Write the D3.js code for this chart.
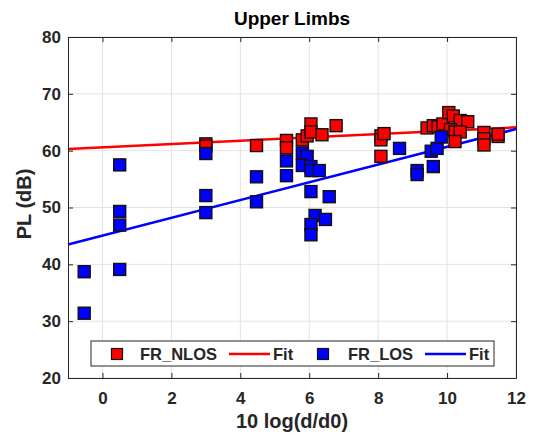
<!DOCTYPE html>
<html>
<head>
<meta charset="utf-8">
<script src="https://cdn.jsdelivr.net/npm/d3@7"></script>
<style>
  body { margin: 0; background: #fff; }
  text { font-family: "Liberation Sans", Arial, sans-serif; }
</style>
</head>
<body>
<script>
const wid = 536, hei = 436;
const margin = {left: 68, right: 20, top: 37, bottom: 58};

// FR_NLOS (red)
const nlosX = [3.0, 3.0, 4.47, 5.34, 5.34, 5.8, 5.94, 6.05, 6.05, 6.37, 6.78,
               8.08, 8.08, 8.17, 8.08, 9.42, 9.6, 9.74, 9.88, 10.05, 10.18, 10.38, 10.6,
               10.1, 10.23, 10.38, 10.23, 11.07, 11.07, 11.07, 11.48, 11.48];
const nlosY = [61.2, 60.8, 60.9, 61.8, 60.5, 61.9, 62.6, 64.7, 63.3, 62.8, 64.4,
               62.6, 61.9, 63.0, 59.0, 64.0, 64.4, 64.2, 64.7, 66.7, 66.1, 65.3, 65.1,
               63.7, 63.3, 63.3, 61.6, 63.2, 62.1, 61.0, 62.5, 62.9];

// FR_LOS (blue)
const losX = [-0.53, -0.53, 0.5, 0.5, 0.5, 0.5, 3.0, 3.0, 3.0, 4.47, 4.47,
              5.34, 5.34, 5.8, 5.94, 5.8, 6.05, 6.05, 6.29, 6.05, 6.58, 6.17, 6.47, 6.05, 6.05,
              8.62, 9.13, 9.13, 9.6, 9.54, 9.71, 9.83];
const losY = [38.7, 31.4, 57.5, 49.3, 46.9, 39.1, 59.5, 52.1, 49.1, 55.4, 51.0,
              58.2, 55.6, 59.6, 59.0, 57.4, 57.2, 56.5, 56.5, 52.8, 51.9, 48.6, 47.9, 47.0, 45.2,
              60.4, 56.5, 55.8, 57.2, 59.9, 60.4, 62.4];

// linear fits, value at x = -1 and x = 12
const fitX = [-1, 12];
const nlosFit = [60.3, 64.1];
const losFit = [43.5, 63.8];

const xTicks = [0, 2, 4, 6, 8, 10, 12];
const yTicks = [20, 30, 40, 50, 60, 70, 80];

const iw = wid - margin.left - margin.right;
const ih = hei - margin.top - margin.bottom;

const x = d3.scaleLinear().domain([-1, 12]).range([0, iw]);
const y = d3.scaleLinear().domain([20, 80]).range([ih, 0]);

const svg = d3.select('body').append('svg')
    .attr('width', wid).attr('height', hei);

const g = svg.append('g')
    .attr('transform', `translate(${margin.left},${margin.top})`);

// grid
g.selectAll('.gx').data(xTicks).enter().append('line')
    .attr('x1', d => x(d)).attr('x2', d => x(d))
    .attr('y1', 0).attr('y2', ih)
    .attr('stroke', '#e3e3e3').attr('stroke-width', 1);
g.selectAll('.gy').data(yTicks).enter().append('line')
    .attr('x1', 0).attr('x2', iw)
    .attr('y1', d => y(d)).attr('y2', d => y(d))
    .attr('stroke', '#e3e3e3').attr('stroke-width', 1);

// fit lines
const line = d3.line().x(d => x(d[0])).y(d => y(d[1]));
g.append('path').datum(d3.zip(fitX, nlosFit)).attr('d', line)
    .attr('stroke', '#ff0000').attr('stroke-width', 2.5).attr('fill', 'none');
g.append('path').datum(d3.zip(fitX, losFit)).attr('d', line)
    .attr('stroke', '#0000ff').attr('stroke-width', 2.5).attr('fill', 'none');

// markers
const sz = 12;
function drawPts(xs, ys, col) {
    g.append('g').selectAll('rect')
        .data(d3.zip(xs, ys))
        .enter().append('rect')
        .attr('x', d => x(d[0]) - sz / 2)
        .attr('y', d => y(d[1]) - sz / 2)
        .attr('width', sz).attr('height', sz)
        .attr('fill', col).attr('stroke', '#111').attr('stroke-width', 1.4);
}
drawPts(nlosX, nlosY, '#ff0000');
drawPts(losX, losY, '#0000ff');

// axes
const axCol = '#262626';
const xAx = g.append('g').attr('transform', `translate(0,${ih})`)
    .call(d3.axisBottom(x).tickValues(xTicks).tickSizeInner(-5).tickSizeOuter(0).tickPadding(14));
const xTop = g.append('g')
    .call(d3.axisTop(x).tickValues(xTicks).tickSizeInner(-5).tickSizeOuter(0).tickFormat(''));
const yAx = g.append('g')
    .call(d3.axisLeft(y).tickValues(yTicks).tickSizeInner(-5).tickSizeOuter(0).tickPadding(7));
const yRight = g.append('g').attr('transform', `translate(${iw},0)`)
    .call(d3.axisRight(y).tickValues(yTicks).tickSizeInner(-5).tickSizeOuter(0).tickFormat(''));

[xAx, xTop, yAx, yRight].forEach(a => {
    a.select('.domain').attr('stroke', axCol);
    a.selectAll('line').attr('stroke', axCol);
    a.selectAll('text').attr('fill', axCol)
        .style('font-size', '17px').style('font-weight', 'bold');
});

// labels
svg.append('text').attr('x', margin.left + iw / 2).attr('y', 25)
    .attr('text-anchor', 'middle').attr('fill', '#000')
    .style('font-size', '19px').style('font-weight', 'bold').text('Upper Limbs');
svg.append('text').attr('x', margin.left + iw / 2).attr('y', 428)
    .attr('text-anchor', 'middle').attr('fill', axCol)
    .style('font-size', '20px').style('font-weight', 'bold').text('10 log(d/d0)');
svg.append('text')
    .attr('transform', `translate(31,204) rotate(-90)`)
    .attr('text-anchor', 'middle').attr('fill', axCol)
    .style('font-size', '20px').style('font-weight', 'bold').text('PL (dB)');

// legend
const lg = svg.append('g');
lg.append('rect').attr('x', 91).attr('y', 341).attr('width', 403).attr('height', 25)
    .attr('fill', '#fff').attr('stroke', axCol).attr('stroke-width', 1);
const legItems = [
    {type: 'sq', col: '#ff0000', cx: 117, label: 'FR_NLOS', tx: 140},
    {type: 'ln', col: '#ff0000', cx: 229, label: 'Fit', tx: 273},
    {type: 'sq', col: '#0000ff', cx: 323, label: 'FR_LOS', tx: 348},
    {type: 'ln', col: '#0000ff', cx: 425, label: 'Fit', tx: 469}
];
const ly = 354;
legItems.forEach(it => {
    if (it.type === 'sq') {
        lg.append('rect').attr('x', it.cx - 5.5).attr('y', ly - 5.5).attr('width', 11).attr('height', 11)
            .attr('fill', it.col).attr('stroke', '#111').attr('stroke-width', 1.2);
    } else {
        lg.append('line').attr('x1', it.cx).attr('x2', it.cx + 41).attr('y1', ly).attr('y2', ly)
            .attr('stroke', it.col).attr('stroke-width', 2.5);
    }
    lg.append('text').attr('x', it.tx).attr('y', ly + 6).attr('fill', axCol)
        .style('font-size', '16.5px').style('font-weight', 'bold').text(it.label);
});
</script>
</body>
</html>
